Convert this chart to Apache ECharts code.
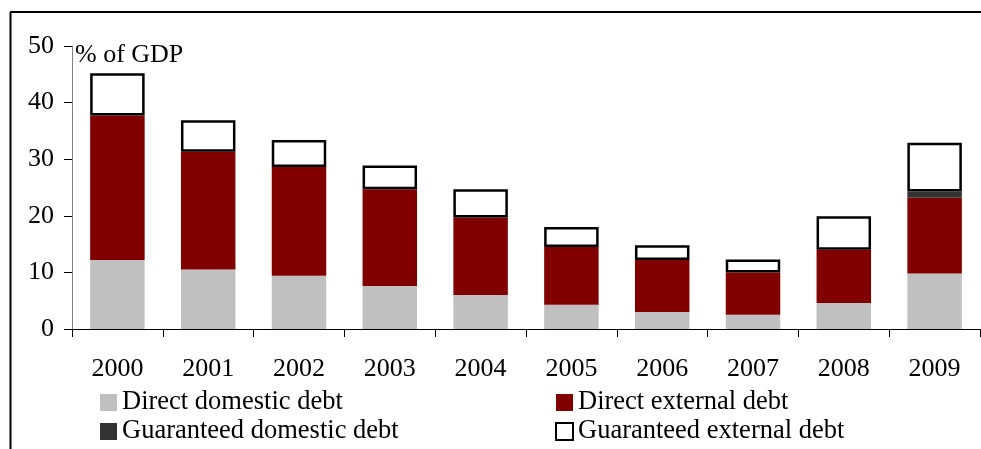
<!DOCTYPE html>
<html>
<head>
<meta charset="utf-8">
<script src="https://cdn.jsdelivr.net/npm/echarts@6/dist/echarts.min.js"></script>
<style>
html,body{margin:0;padding:0;background:#fff;}
#chart{width:981px;height:449px;}
</style>
</head>
<body>
<div id="chart"></div>
<script>
var years = ['2000','2001','2002','2003','2004','2005','2006','2007','2008','2009'];
var directDomestic = [12.2, 10.5, 9.4, 7.6, 6.0, 4.3, 3.0, 2.5, 4.6, 9.8];
var directExternal = [25.5, 20.8, 19.2, 17.1, 13.7, 10.2, 9.2, 7.5, 9.4, 13.4];
var guaranteedDomestic = [0, 0, 0, 0, 0, 0, 0, 0, 0, 1.1];
var guaranteedExternal = [7.5, 5.6, 4.8, 4.2, 5.0, 3.5, 2.6, 2.3, 5.9, 8.6];
var yTicks = [0, 10, 20, 30, 40, 50];
var unitLabel = '% of GDP';

var FONT = '"Liberation Serif", "Times New Roman", serif';
var chart = echarts.init(document.getElementById('chart'), null, {renderer: 'canvas'});

var legendText = {fontFamily: FONT, fontSize: 26.5, color: '#000', lineHeight: 27};

chart.setOption({
  animation: false,
  backgroundColor: '#fff',
  textStyle: {fontFamily: FONT},
  grid: {left: 72, right: 1, top: 46, bottom: 120, containLabel: false},
  legend: [
    {
      orient: 'vertical', left: 100, top: 389, itemWidth: 17, itemHeight: 17,
      itemGap: 2, padding: 0, icon: 'rect', textStyle: legendText,
      data: ['Direct domestic debt', 'Guaranteed domestic debt']
    },
    {
      orient: 'vertical', left: 555, top: 389, itemWidth: 17, itemHeight: 17,
      itemGap: 2, padding: 0, icon: 'rect', textStyle: legendText,
      data: ['Direct external debt', 'Guaranteed external debt']
    }
  ],
  xAxis: {
    type: 'category',
    data: years,
    axisLine: {lineStyle: {color: '#000', width: 1}},
    axisTick: {show: true, length: 8, lineStyle: {color: '#000'}},
    axisLabel: {fontFamily: FONT, fontSize: 26, color: '#000', margin: 27}
  },
  yAxis: {
    type: 'value',
    min: yTicks[0], max: yTicks[yTicks.length - 1], interval: 10,
    axisLine: {show: true, lineStyle: {color: '#808080', width: 1}},
    axisTick: {show: true, length: 8, lineStyle: {color: '#000'}},
    splitLine: {show: false},
    axisLabel: {fontFamily: FONT, fontSize: 26, color: '#000', margin: 18}
  },
  series: [
    {name: 'Direct domestic debt', type: 'bar', stack: 'd', data: directDomestic,
     barCategoryGap: '40%', itemStyle: {color: '#C0C0C0'}},
    {name: 'Direct external debt', type: 'bar', stack: 'd', data: directExternal,
     itemStyle: {color: '#800000'}},
    {name: 'Guaranteed domestic debt', type: 'bar', stack: 'd', data: guaranteedDomestic,
     itemStyle: {color: '#333333'}},
    {name: 'Guaranteed external debt', type: 'bar', stack: 'd', data: guaranteedExternal,
     itemStyle: {color: '#FFFFFF', borderColor: '#000', borderWidth: 2.5}}
  ],
  graphic: [
    {type: 'line', shape: {x1: 10, y1: 12, x2: 981, y2: 12}, style: {stroke: '#000', lineWidth: 2}},
    {type: 'line', shape: {x1: 10.5, y1: 12, x2: 10.5, y2: 449}, style: {stroke: '#000', lineWidth: 2}},
    {type: 'text', left: 75, top: 42, style: {text: unitLabel, font: '26px ' + FONT, fill: '#000'}}
  ]
});
</script>
</body>
</html>
